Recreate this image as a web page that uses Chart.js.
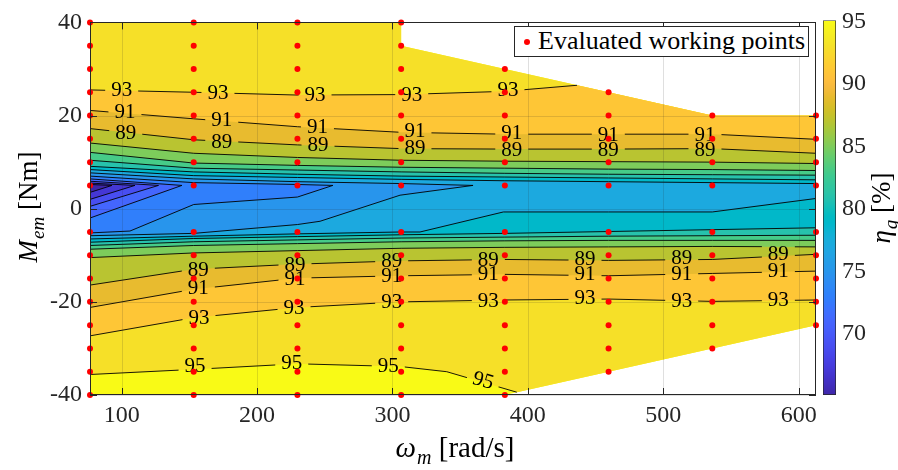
<!DOCTYPE html>
<html>
<head>
<meta charset="utf-8">
<script src="https://cdn.jsdelivr.net/npm/chart.js@4.4.1/dist/chart.umd.min.js"></script>
<style>
  body { margin: 0; background: #fff; }
  #wrap { position: relative; width: 898px; height: 470px; overflow: hidden; }
  #main { position: absolute; left: 0; top: 0; }
  #cbar { position: absolute; left: 815px; top: 0; }
  #leg {
    position: absolute; left: 514px; top: 26px; width: 295px; height: 31px;
    box-sizing: border-box; border: 1px solid #262626; background: #fff;
    font: 26px 'Liberation Serif', serif; line-height: 28px; padding-left: 23px;
    white-space: nowrap; color: #000;
  }
  #leg .dot { position: absolute; left: 9px; top: 12px; width: 6px; height: 6px; border-radius: 50%; background: #f00; }
</style>
</head>
<body>
<div id="wrap">
  <canvas id="main" width="898" height="470"></canvas>
  <canvas id="cbar" width="83" height="470"></canvas>
  <div id="leg"><span class="dot"></span>Evaluated working points</div>
</div>
<script>
// working points grid
const speeds = [76.6, 153.2, 229.8, 306.4, 383.0, 459.6, 536.2, 612.8];
const torques = [40, 35, 30, 25, 20, 15, 10, 5, -5, -10, -15, -20, -25, -30, -35, -40];
const torqueMax = [40, 40, 40, 40, 30, 25, 20, 20];
const torqueMin = [-40, -40, -40, -40, -40, -35, -30, -25];

// edge of the evaluated region [speed, torque]
const topEdge = [[76.6, 40], [306.4, 40], [306.4, 35], [383.0, 30], [459.6, 25], [536.2, 20], [612.8, 20]];
const bottomEdge = [[76.6, -40], [383.0, -40], [459.6, -35], [536.2, -30], [612.8, -25]];

// contour lines (upper / lower branch), torque per speed or [speed, torque]
const up67 = [[76.6, 5.2], [92.8, 5.0]];
const lo67 = [[76.6, 3.5], [92.8, 5.0]];
const up69 = [[76.6, 5.5], [109.8, 5.0]];
const lo69 = [[76.6, 2.0], [109.8, 5.0]];
const up71 = [[76.6, 5.9], [127.2, 5.0]];
const lo71 = [[76.6, 0.5], [127.2, 5.0]];
const up73 = [[76.6, 6.4], [144.5, 5.0]];
const lo73 = [[76.6, -2.0], [144.5, 5.0]];
const up75 = [[76.6, 7.0], [153.2, 5.6], [229.8, 5.2], [256.0, 5.0]];
const lo75 = [[76.6, -5.2], [106.1, -4.8], [153.2, 0.9], [229.8, 2.5], [256.0, 5.0]];
const up77 = [[76.6, 7.7], [153.2, 6.4], [229.8, 5.8], [306.4, 5.4], [359.5, 5.0]];
const lo77 = [[76.6, -5.8], [153.2, -5.3], [229.8, -3.4], [246.5, -2.7], [305.6, 2.9], [359.5, 5.0]];
const up79 = [8.4, 7.1, 6.7, 6.3, 6.0, 5.8, 5.6, 5.4];
const lo79 = [[76.6, -6.5], [153.2, -5.9], [229.8, -5.4], [305.6, -5.0], [320.3, -5.0], [381.9, -0.7], [459.6, -0.7], [536.2, -0.7], [612.8, 2.2]];
const up81 = [9.1, 7.9, 7.4, 7.0, 6.8, 6.6, 6.4, 6.2];
const lo81 = [-7.2, -6.4, -6.0, -5.6, -5.3, -4.9, -4.5, -4.1];
const up83 = [10.4, 8.7, 8.3, 7.9, 7.6, 7.4, 7.3, 7.2];
const lo83 = [-7.9, -7.1, -6.7, -6.3, -6.1, -5.9, -5.8, -5.7];
const up85 = [12.1, 9.8, 9.3, 8.9, 8.7, 8.5, 8.4, 8.2];
const lo85 = [-8.7, -7.9, -7.5, -7.1, -6.9, -6.8, -6.8, -6.8];
const up87 = [14.1, 11.9, 11.0, 10.4, 10.2, 10.1, 10.0, 9.7];
const lo87 = [-10.5, -9.5, -9.0, -8.5, -8.3, -8.2, -8.1, -8.2];
const up89 = [17.2, 14.8, 13.7, 12.9, 12.8, 12.8, 12.9, 11.9];
const lo89 = [-16.4, -13.0, -11.9, -11.2, -10.9, -11.1, -10.9, -9.8];
const up91 = [21.1, 19.3, 17.6, 16.4, 16.0, 16.0, 16.0, 14.9];
const lo91 = [-21.2, -17.3, -14.9, -14.4, -14.1, -14.4, -13.9, -13.4];
const up93 = [[76.6, 25.5], [153.2, 25.0], [229.8, 24.4], [306.4, 24.5], [383.0, 25.2], [436.3, 26.5]];
const lo93 = [-27.3, -23.4, -21.2, -20.0, -19.6, -19.4, -19.9, -19.6];
const lo95 = [[76.6, -35.6], [153.2, -34.5], [229.8, -33.3], [306.4, -33.9], [340.1, -35.0], [391.8, -39.4]];

// inline labels [speed, torque, text, angle deg]
const lineLabels = [
  [100.0, 25.6, '93'], [171.1, 24.9, '93'], [242.8, 24.6, '93'], [314.2, 24.6, '93'], [385.3, 25.6, '93'],
  [102.4, 20.8, '91'], [173.9, 19.2, '91'], [244.6, 17.6, '91'], [316.6, 16.9, '91'], [388.1, 16.4, '91'], [459.4, 16.0, '91'], [530.8, 16.0, '91'],
  [103.0, 16.4, '89'], [173.9, 14.5, '89'], [245.0, 13.7, '89'], [316.6, 13.1, '89'], [388.1, 12.8, '89'], [459.4, 12.8, '89'], [530.8, 12.8, '89'],
  [156.6, -13.0, '89'], [228.0, -11.9, '89'], [299.4, -11.2, '89'], [370.8, -10.8, '89'], [442.2, -10.6, '89'], [513.6, -10.5, '89'], [585.0, -9.6, '89'],
  [156.6, -17.0, '91'], [228.0, -14.9, '91'], [299.4, -14.4, '91'], [370.8, -14.0, '91'], [442.2, -14.0, '91'], [513.6, -13.9, '91'], [585.0, -13.3, '91'],
  [157.1, -23.3, '93'], [227.3, -21.2, '93'], [299.4, -19.9, '93'], [370.8, -19.6, '93'], [442.2, -19.0, '93'], [513.6, -19.6, '93'], [585.0, -19.4, '93'],
  [154.2, -33.6, '95'], [225.6, -33.0, '95'], [296.9, -33.6, '95'], [367.1, -36.8, '95', 16]
];

const xTicks = [100, 200, 300, 400, 500, 600];
const yTicks = [-40, -20, 0, 20, 40];
const cbTicks = [70, 75, 80, 85, 90, 95];
const cMin = 65.1, cMax = 95.1;

// MATLAB parula(64)
const parula = [
[0.2422,0.1504,0.6603],[0.2504,0.1650,0.7076],[0.2578,0.1818,0.7511],[0.2647,0.1978,0.7952],
[0.2706,0.2147,0.8364],[0.2751,0.2342,0.8710],[0.2783,0.2559,0.8991],[0.2803,0.2782,0.9221],
[0.2813,0.3006,0.9414],[0.2810,0.3228,0.9579],[0.2795,0.3447,0.9717],[0.2760,0.3667,0.9829],
[0.2699,0.3892,0.9906],[0.2602,0.4123,0.9952],[0.2440,0.4358,0.9988],[0.2206,0.4603,0.9973],
[0.1963,0.4847,0.9892],[0.1834,0.5074,0.9798],[0.1786,0.5289,0.9682],[0.1764,0.5499,0.9520],
[0.1687,0.5703,0.9359],[0.1540,0.5902,0.9218],[0.1460,0.6091,0.9079],[0.1380,0.6276,0.8973],
[0.1248,0.6459,0.8883],[0.1113,0.6635,0.8763],[0.0952,0.6798,0.8598],[0.0689,0.6948,0.8394],
[0.0297,0.7082,0.8163],[0.0036,0.7203,0.7917],[0.0067,0.7312,0.7660],[0.0433,0.7411,0.7394],
[0.0964,0.7500,0.7120],[0.1408,0.7584,0.6842],[0.1717,0.7670,0.6554],[0.1938,0.7758,0.6251],
[0.2161,0.7843,0.5923],[0.2470,0.7918,0.5567],[0.2906,0.7973,0.5188],[0.3406,0.8008,0.4789],
[0.3909,0.8029,0.4354],[0.4456,0.8024,0.3909],[0.5044,0.7993,0.3480],[0.5616,0.7942,0.3045],
[0.6174,0.7876,0.2612],[0.6720,0.7793,0.2227],[0.7242,0.7698,0.1910],[0.7738,0.7598,0.1646],
[0.8203,0.7498,0.1535],[0.8634,0.7406,0.1596],[0.9035,0.7330,0.1774],[0.9393,0.7288,0.2100],
[0.9728,0.7298,0.2394],[0.9956,0.7434,0.2371],[0.9970,0.7659,0.2199],[0.9952,0.7893,0.2028],
[0.9892,0.8136,0.1885],[0.9786,0.8386,0.1766],[0.9676,0.8639,0.1643],[0.9610,0.8890,0.1537],
[0.9597,0.9135,0.1423],[0.9628,0.9373,0.1265],[0.9691,0.9606,0.1064],[0.9769,0.9839,0.0805]];

function rgb(c) { return 'rgb(' + c.map(v => Math.round(v * 255)).join(',') + ')'; }
function cmap(v) {
  let t = (v - cMin) / (cMax - cMin);
  t = Math.max(0, Math.min(1, t));
  const f = t * 63, i = Math.min(62, Math.floor(f)), r = f - i;
  return rgb(parula[i].map((a, k) => a + (parula[i + 1][k] - a) * r));
}

function pairs(arr) {
  return typeof arr[0] === 'number' ? arr.map((t, i) => [speeds[i], t]) : arr;
}
const contours = [
  {level: 67, up: up67, lo: lo67, closed: true},
  {level: 69, up: up69, lo: lo69, closed: true},
  {level: 71, up: up71, lo: lo71, closed: true},
  {level: 73, up: up73, lo: lo73, closed: true},
  {level: 75, up: up75, lo: lo75, closed: true},
  {level: 77, up: up77, lo: lo77, closed: true},
  {level: 79, up: up79, lo: lo79},
  {level: 81, up: up81, lo: lo81},
  {level: 83, up: up83, lo: lo83},
  {level: 85, up: up85, lo: lo85},
  {level: 87, up: up87, lo: lo87},
  {level: 89, up: up89, lo: lo89},
  {level: 91, up: up91, lo: lo91},
  {level: 93, up: up93, lo: lo93},
  {level: 95, up: null, lo: lo95}
].map(c => ({...c, up: c.up && pairs(c.up), lo: pairs(c.lo)}));

// region below a level, closed along the edges of the evaluated area
function region(c) {
  if (c.closed) return c.up.concat(c.lo.slice().reverse());
  const top = c.up ? c.up.slice() : topEdge.slice();
  const ux = top[top.length - 1][0];
  const lx = c.lo[c.lo.length - 1][0];
  return top.concat(topEdge.filter(p => p[0] > ux + 0.01),
                    bottomEdge.filter(p => p[0] > lx + 0.01).reverse(),
                    c.lo.slice().reverse());
}
const xy = arr => arr.map(p => ({x: p[0], y: p[1]}));

const datasets = [];
const dots = [];
speeds.forEach((s, i) => torques.forEach(t => {
  if (t <= torqueMax[i] && t >= torqueMin[i]) dots.push({x: s, y: t});
}));
datasets.push({data: dots, showLine: false, pointRadius: 3, pointBackgroundColor: '#ff0000',
  pointBorderWidth: 0, order: 0, dotsLayer: true, clip: false});

contours.forEach(c => {
  const strokes = c.closed ? [region(c)] : [c.up, c.lo].filter(Boolean);
  strokes.forEach(s => datasets.push({data: xy(s), borderColor: '#000', borderWidth: 0.9,
    pointRadius: 0, fill: false, order: 1, contour: true}));
});
contours.forEach((c, k) => {
  datasets.push({data: xy(region(c)), borderWidth: 0, borderColor: 'rgba(0,0,0,0)', pointRadius: 0,
    fill: 'shape', backgroundColor: cmap(c.level - 2), order: 2 + k});
});
datasets.push({data: xy(topEdge.concat(bottomEdge.slice().reverse())), borderWidth: 0,
  borderColor: 'rgba(0,0,0,0)', pointRadius: 0, fill: 'shape', backgroundColor: cmap(95), order: 30});

const FONT = "'Liberation Serif', serif";
const AX = '#262626';

function labelBox(chart, lb) {
  const ctx = chart.ctx;
  ctx.font = '21px ' + FONT;
  const w = ctx.measureText(lb[2]).width + 12, h = 18;
  const cx = chart.scales.x.getPixelForValue(lb[0]);
  const cy = chart.scales.y.getPixelForValue(lb[1]);
  const a = (lb[3] || 0) * Math.PI / 180;
  return {cx, cy, w, h, a};
}

// grid on top of the filled contours, then labels under the dots
const contourLabels = {
  id: 'contourLabels',
  beforeDatasetDraw(chart, args) {
    const ds = chart.data.datasets[args.index];
    const ctx = chart.ctx;
    if (ds.contour) {
      ctx.save();
      ctx.beginPath();
      ctx.rect(0, 0, chart.width, chart.height);
      lineLabels.forEach(lb => {
        const b = labelBox(chart, lb);
        const cs = Math.cos(b.a), sn = Math.sin(b.a);
        [[-1, -1], [1, -1], [1, 1], [-1, 1]].forEach(([sx, sy], i) => {
          const dx = sx * b.w / 2, dy = sy * b.h / 2;
          const px = b.cx + dx * cs - dy * sn, py = b.cy + dx * sn + dy * cs;
          if (i === 0) ctx.moveTo(px, py); else ctx.lineTo(px, py);
        });
        ctx.closePath();
      });
      ctx.clip('evenodd');
    }
    if (ds.dotsLayer) {
      const {chartArea: a, scales} = chart;
      ctx.save();
      ctx.strokeStyle = 'rgba(38,38,38,0.15)';
      ctx.lineWidth = 1;
      ctx.beginPath();
      xTicks.forEach(v => {
        const px = Math.round(scales.x.getPixelForValue(v)) + 0.5;
        ctx.moveTo(px, a.top); ctx.lineTo(px, a.bottom);
      });
      yTicks.forEach(v => {
        const py = Math.round(scales.y.getPixelForValue(v)) + 0.5;
        ctx.moveTo(a.left, py); ctx.lineTo(a.right, py);
      });
      ctx.stroke();
      ctx.restore();
      lineLabels.forEach(lb => {
        const b = labelBox(chart, lb);
        ctx.save();
        ctx.translate(b.cx, b.cy);
        ctx.rotate(b.a);
        ctx.fillStyle = '#000';
        ctx.textAlign = 'center';
        ctx.textBaseline = 'middle';
        ctx.fillText(lb[2], 0, 1);
        ctx.restore();
      });
    }
  },
  afterDatasetDraw(chart, args) {
    if (chart.data.datasets[args.index].contour) chart.ctx.restore();
  }
};

// axes box with inward ticks
const axesBox = {
  id: 'axesBox',
  beforeDatasetsDraw(chart) {},
  afterDatasetsDraw(chart) {
    const {ctx, chartArea: a, scales} = chart;
    ctx.save();
    ctx.strokeStyle = AX;
    ctx.lineWidth = 1;
    ctx.beginPath();
    xTicks.forEach(v => {
      const px = Math.round(scales.x.getPixelForValue(v)) + 0.5;
      ctx.moveTo(px, a.bottom); ctx.lineTo(px, a.bottom - 7);
      ctx.moveTo(px, a.top); ctx.lineTo(px, a.top + 7);
    });
    yTicks.forEach(v => {
      const py = Math.round(scales.y.getPixelForValue(v)) + 0.5;
      ctx.moveTo(a.left, py); ctx.lineTo(a.left + 7, py);
      ctx.moveTo(a.right, py); ctx.lineTo(a.right - 7, py);
    });
    ctx.stroke();
    ctx.strokeRect(Math.round(a.left) + 0.5, Math.round(a.top) + 0.5,
                   Math.round(a.right - a.left) - 1, Math.round(a.bottom - a.top) - 1);
    ctx.restore();
  }
};

function subTitle(ctx, base, sub, rest, cx, cy, rot, size) {
  ctx.save();
  ctx.translate(cx, cy);
  ctx.rotate(rot);
  ctx.fillStyle = '#000';
  ctx.textBaseline = 'alphabetic';
  const fB = 'italic ' + size + 'px ' + FONT;
  const fS = 'italic ' + Math.round(size * 0.7) + 'px ' + FONT;
  const fR = size + 'px ' + FONT;
  ctx.font = fB; const wB = ctx.measureText(base).width + 1;
  ctx.font = fS; const wS = ctx.measureText(sub).width;
  ctx.font = fR; const wR = ctx.measureText(rest).width;
  let x = -(wB + wS + wR) / 2;
  const y = size * 0.33;
  ctx.font = fB; ctx.fillText(base, x, y); x += wB;
  ctx.font = fS; ctx.fillText(sub, x, y + size * 0.25); x += wS;
  ctx.font = fR; ctx.fillText(rest, x, y);
  ctx.restore();
}

const axisTitles = {
  id: 'axisTitles',
  afterDraw(chart) {
    subTitle(chart.ctx, 'ω', 'm', ' [rad/s]', 455, 447, 0, 29);
    subTitle(chart.ctx, 'M', 'em', ' [Nm]', 28, 207, -Math.PI / 2, 27);
  }
};

const tickFont = {family: FONT, size: 24};
const setTicks = vals => s => { s.ticks = vals.map(v => ({value: v})); };

new Chart(document.getElementById('main'), {
  type: 'line',
  data: {datasets},
  options: {
    responsive: false,
    animation: false,
    events: [],
    layout: {padding: {left: 0, right: 82, top: 20, bottom: 0}},
    plugins: {legend: {display: false}, tooltip: {enabled: false}},
    elements: {line: {tension: 0}},
    scales: {
      x: {
        type: 'linear', min: 76.6, max: 612.8,
        afterBuildTicks: setTicks(xTicks),
        afterFit: s => { s.height = 75; },
        ticks: {font: tickFont, color: AX, padding: 6, maxRotation: 0},
        grid: {display: false, drawTicks: false},
        border: {display: false}
      },
      y: {
        type: 'linear', min: -40, max: 40,
        afterBuildTicks: setTicks(yTicks),
        afterFit: s => { s.width = 90; },
        ticks: {font: tickFont, color: AX, padding: 8},
        grid: {display: false, drawTicks: false},
        border: {display: false}
      }
    }
  },
  plugins: [contourLabels, axesBox, axisTitles]
});

// colour bar
const cbTitle = {
  id: 'cbTitle',
  afterDraw(chart) {
    subTitle(chart.ctx, 'η', 'g', ' [%]', 66, 208, -Math.PI / 2, 27);
  }
};
new Chart(document.getElementById('cbar'), {
  type: 'bar',
  data: {
    labels: [''],
    datasets: [{
      data: [[cMin, cMax]],
      backgroundColor: ctx => {
        const a = ctx.chart.chartArea;
        if (!a) return null;
        const g = ctx.chart.ctx.createLinearGradient(0, a.bottom, 0, a.top);
        parula.forEach((c, i) => g.addColorStop(i / 63, rgb(c)));
        return g;
      },
      borderColor: AX, borderWidth: 1, borderSkipped: false,
      barPercentage: 1, categoryPercentage: 1
    }]
  },
  options: {
    responsive: false,
    animation: false,
    events: [],
    layout: {padding: {left: 8, top: 19, bottom: 75, right: 0}},
    plugins: {legend: {display: false}, tooltip: {enabled: false}},
    scales: {
      x: {display: false},
      y: {
        position: 'right', min: cMin, max: cMax,
        afterBuildTicks: setTicks(cbTicks),
        afterFit: s => { s.width = 62; },
        ticks: {font: tickFont, color: AX, padding: 6},
        grid: {display: false, drawTicks: false},
        border: {display: false}
      }
    }
  },
  plugins: [cbTitle]
});
</script>
</body>
</html>
